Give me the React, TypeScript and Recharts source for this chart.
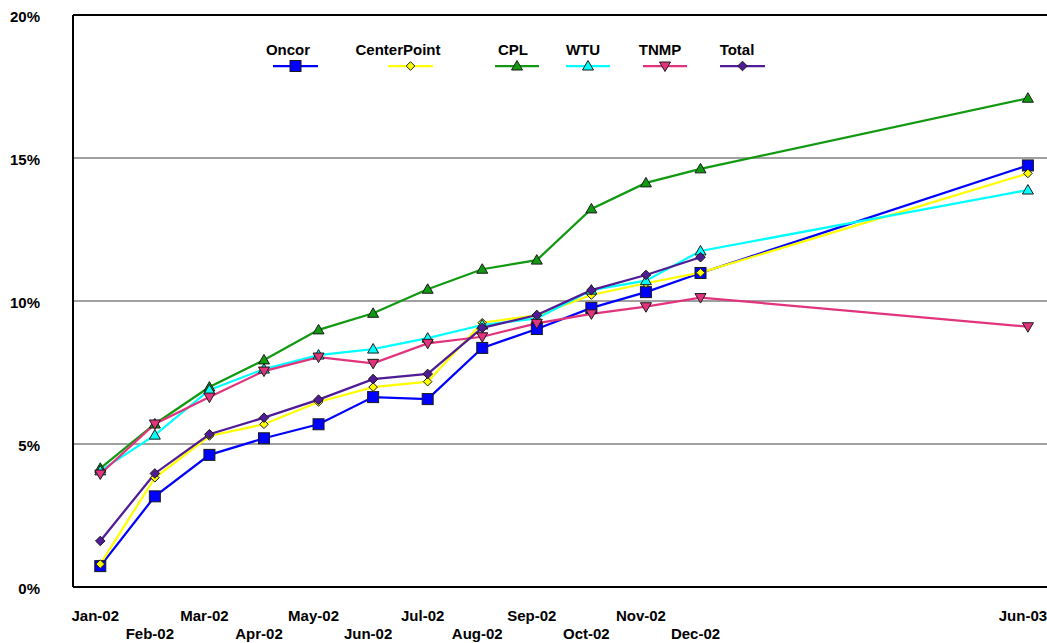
import React from 'react';
import {
  LineChart,
  Line,
  XAxis,
  YAxis,
  CartesianGrid,
  ReferenceLine,
} from 'recharts';

// Cumulative share by utility, Jan-02 .. Dec-02 then Jun-03
const months = [
  'Jan-02', 'Feb-02', 'Mar-02', 'Apr-02', 'May-02', 'Jun-02', 'Jul-02',
  'Aug-02', 'Sep-02', 'Oct-02', 'Nov-02', 'Dec-02', 'Jun-03',
];
const monthIndex = [0, 1, 2, 3, 4, 5, 6, 7, 8, 9, 10, 11, 17];

const oncor = [0.73, 3.17, 4.62, 5.2, 5.69, 6.64, 6.57, 8.36, 9.02, 9.76, 10.31, 10.98, 14.74];
const centerPoint = [0.8, 3.82, 5.28, 5.69, 6.47, 6.99, 7.18, 9.24, 9.5, 10.21, 10.62, 10.99, 14.46];
const cpl = [4.15, 5.7, 6.99, 7.94, 8.99, 9.57, 10.41, 11.11, 11.43, 13.22, 14.13, 14.62, 17.09];
const wtu = [4.06, 5.31, 6.89, 7.62, 8.11, 8.32, 8.7, 9.16, 9.39, 10.38, 10.71, 11.75, 13.88];
const tnmp = [3.95, 5.7, 6.64, 7.55, 8.04, 7.82, 8.52, 8.75, 9.22, 9.55, 9.8, 10.12, 9.1];
const total: (number | null)[] = [1.61, 3.97, 5.34, 5.92, 6.55, 7.27, 7.45, 9.06, 9.51, 10.38, 10.91, 11.53, null];

const yTicks = [0, 5, 10, 15, 20];

const FONT = '"Liberation Sans", Arial, sans-serif';

const series = [
  { key: 'oncor', name: 'Oncor', values: oncor, color: '#0000FF', marker: 'square' },
  { key: 'centerPoint', name: 'CenterPoint', values: centerPoint, color: '#FFFF00', marker: 'diamondSmall' },
  { key: 'cpl', name: 'CPL', values: cpl, color: '#119911', marker: 'triUp' },
  { key: 'wtu', name: 'WTU', values: wtu, color: '#00FFFF', marker: 'triUp' },
  { key: 'tnmp', name: 'TNMP', values: tnmp, color: '#E2337D', marker: 'triDown' },
  { key: 'total', name: 'Total', values: total, color: '#501C96', marker: 'diamond' },
];

// legend placement (text centre, line start, line end)
const legendLayout = [
  { tx: 288, x1: 273, x2: 318 },
  { tx: 398, x1: 388, x2: 433 },
  { tx: 513, x1: 495, x2: 539 },
  { tx: 583, x1: 566, x2: 610 },
  { tx: 660, x1: 643, x2: 687 },
  { tx: 737, x1: 720, x2: 765 },
];

const chartData = months.map((m, i) => {
  const row: any = { label: m, x: monthIndex[i] };
  series.forEach((s) => {
    row[s.key] = s.values[i];
  });
  return row;
});

function Marker({ kind, cx, cy, fill }: { kind: string; cx: number; cy: number; fill: string }) {
  const stroke = '#1a1a1a';
  if (kind === 'square') {
    return <rect x={cx - 5.5} y={cy - 5.5} width={11} height={11} fill={fill} stroke={stroke} strokeWidth={1} />;
  }
  if (kind === 'diamond' || kind === 'diamondSmall') {
    const r = kind === 'diamond' ? 4.8 : 4.3;
    return (
      <polygon
        points={`${cx},${cy - r} ${cx + r},${cy} ${cx},${cy + r} ${cx - r},${cy}`}
        fill={fill}
        stroke={stroke}
        strokeWidth={1}
      />
    );
  }
  if (kind === 'triUp') {
    return (
      <polygon
        points={`${cx},${cy - 5.5} ${cx + 5.5},${cy + 4} ${cx - 5.5},${cy + 4}`}
        fill={fill}
        stroke={stroke}
        strokeWidth={1}
      />
    );
  }
  return (
    <polygon
      points={`${cx},${cy + 5.5} ${cx + 5.5},${cy - 4} ${cx - 5.5},${cy - 4}`}
      fill={fill}
      stroke={stroke}
      strokeWidth={1}
    />
  );
}

const makeDot = (kind: string, color: string) => (props: any) => {
  const { cx, cy, index } = props;
  if (cx == null || cy == null || props.value == null) return <g key={`d-${index}`} />;
  return (
    <g key={`d-${index}`}>
      <Marker kind={kind} cx={cx} cy={cy} fill={color} />
    </g>
  );
};

const XTick = (props: any) => {
  const { x, y, payload } = props;
  const i = monthIndex.indexOf(payload.value);
  const lower = i % 2 === 1;
  return (
    <text
      x={x - 5}
      y={y + (lower ? 52 : 34)}
      textAnchor="middle"
      fontFamily={FONT}
      fontWeight="bold"
      fontSize={15}
      fill="#000"
    >
      {months[i]}
    </text>
  );
};

const YTick = (props: any) => {
  const { x, y, payload } = props;
  return (
    <text x={x - 33} y={y + 7} textAnchor="end" fontFamily={FONT} fontWeight="bold" fontSize={15} fill="#000">
      {`${payload.value}%`}
    </text>
  );
};

export default function App() {
  return (
    <div style={{ position: 'absolute', left: 0, top: 0, width: 1047, height: 643, background: '#fff' }}>
      <LineChart
        width={1047}
        height={643}
        data={chartData}
        margin={{ top: 15, right: 0, bottom: 0, left: 0 }}
      >
        <CartesianGrid vertical={false} stroke="#808080" strokeWidth={1.5} />
        <XAxis
          dataKey="x"
          type="number"
          domain={[-0.5, 17.35]}
          ticks={monthIndex}
          interval={0}
          height={56}
          tickSize={0}
          tickMargin={0}
          tick={<XTick />}
          axisLine={{ stroke: '#000', strokeWidth: 2 }}
          allowDataOverflow
        />
        <YAxis
          type="number"
          domain={[0, 20]}
          ticks={yTicks}
          width={73}
          tickSize={0}
          tickMargin={0}
          tick={<YTick />}
          axisLine={{ stroke: '#000', strokeWidth: 2 }}
        />
        <ReferenceLine y={20} stroke="#000" strokeWidth={2} />
        {series.map((s) => (
          <Line
            key={s.key}
            dataKey={s.key}
            name={s.name}
            type="linear"
            stroke={s.color}
            strokeWidth={2.25}
            dot={makeDot(s.marker, s.color)}
            activeDot={false}
            isAnimationActive={false}
          />
        ))}
      </LineChart>

      <svg
        width={1047}
        height={90}
        style={{ position: 'absolute', left: 0, top: 0, pointerEvents: 'none' }}
      >
        {series.map((s, i) => {
          const l = legendLayout[i];
          const cx = (l.x1 + l.x2) / 2;
          return (
            <g key={s.key}>
              <text
                x={l.tx}
                y={55}
                textAnchor="middle"
                fontFamily={FONT}
                fontWeight="bold"
                fontSize={15}
                fill="#000"
              >
                {s.name}
              </text>
              <line x1={l.x1} x2={l.x2} y1={66} y2={66} stroke={s.color} strokeWidth={2.25} />
              <Marker kind={s.marker} cx={cx} cy={66} fill={s.color} />
            </g>
          );
        })}
      </svg>
    </div>
  );
}
